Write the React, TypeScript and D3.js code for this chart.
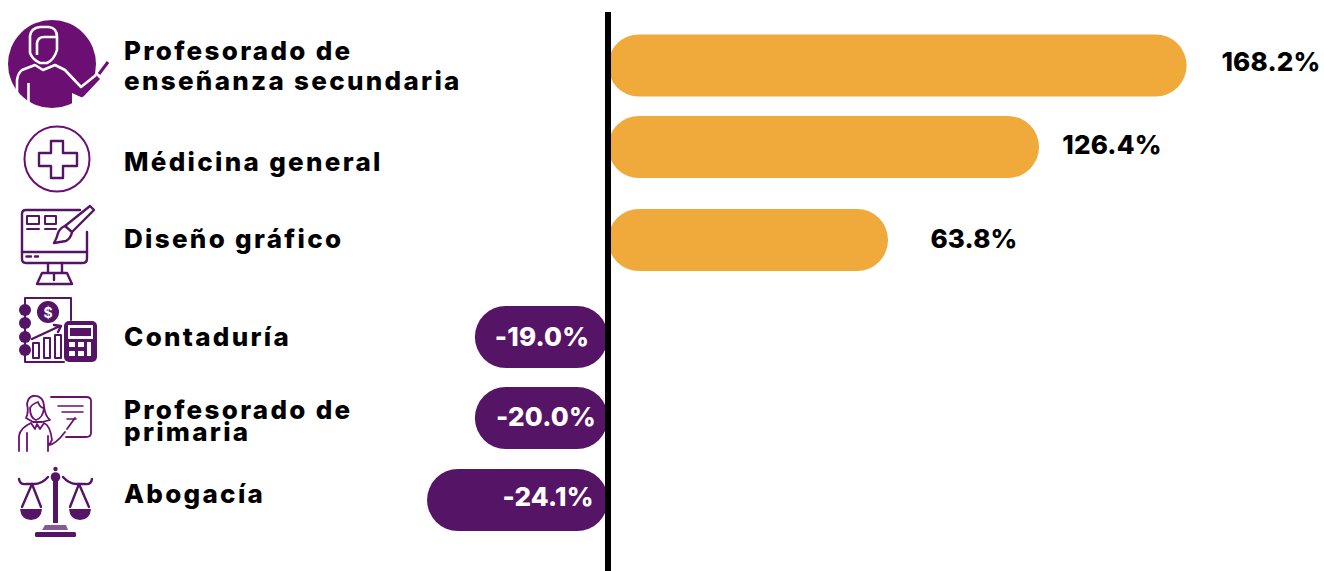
import React from 'react';
import * as d3 from 'd3';

const categories = ['Profesorado de enseñanza secundaria', 'Médicina general', 'Diseño gráfico', 'Contaduría', 'Profesorado de primaria', 'Abogacía'];
const labelLines = [['Profesorado de', 'enseñanza secundaria'], ['Médicina general'], ['Diseño gráfico'], ['Contaduría'], ['Profesorado de', 'primaria'], ['Abogacía']];
const valueLabels = ['168.2%', '126.4%', '63.8%', '-19.0%', '-20.0%', '-24.1%'];
// Bar lengths as drawn in the picture (the original is not to scale with its labels)
const drawnValues = [168.2, 125.3, 81.4, -38.7, -38.7, -52.6];
const rowTops = [34.5, 116, 209, 306, 387, 469];
const labelY = [[60, 90], [171], [248], [346], [419, 441], [503]];
const valueLabelX = [1271, 1112, 974, 542, 546, 548];
const valueLabelY = [71, 154, 248, 346, 426, 506];

const ORANGE = '#F0AA3C';
const PURPLE = '#561467';
const ICON = '#6B0F72';
const DARK = '#561467';
const FONT = 'Inter, "Noto Sans", sans-serif';

const x = d3.scaleLinear().domain([-100, 200]).range([608 - 344, 608 + 688]);

function Icons() {
  const s = { fill: 'none', stroke: DARK, strokeWidth: 2.4, strokeLinejoin: 'round' as const, strokeLinecap: 'round' as const };
  const t = { fill: 'none', stroke: '#fff', strokeWidth: 2.6, strokeLinejoin: 'round' as const };
  return (
    <g>
      {/* teacher */}
      <circle cx={52} cy={64} r={44} fill={ICON} />
      <path d="M81,87 L96,75 L100,79 L84,96 L72,104 L68,92 Z" fill={ICON} />
      <path d="M99,74 L108,62" stroke={ICON} strokeWidth={3} fill="none" />
      <path d="M30,53 V36 Q31,28 40,27 H49 Q57,28 57,37 V50 Q54,60 47,63 H40 Q33,60 30,53 Z" {...t} />
      <path d="M37,55 V43 Q38,37 44,37 H56" {...t} />
      <path d="M17,106 V80 Q18,73 22,70 L35,65 L43,70 L55,65 L65,70 L81,87 L96,75" {...t} />
      <path d="M28.500,83 V107" {...t} />
      <path d="M72,93 V105 L83,98 Z" fill="#fff" />
      {/* medicine */}
      <circle cx={57} cy={159} r={32.5} fill="none" stroke={ICON} strokeWidth={2} />
      <path d="M51,141 H63 V153 H77 V166 H63 V178 H51 V166 H39 V153 H51 Z" fill="none" stroke={DARK} strokeWidth={2.4} strokeLinejoin="round" />
      {/* design */}
      <path d="M87,232 V258 Q87,263 83,263 H26 Q22,263 22,259 V214 Q22,210 26,210 H80" {...s} />
      <path d="M22,252 H87" {...s} />
      <path d="M26.500,256.500 H31 M35,256.500 H38" {...s} />
      <rect x={27} y={216} width={12} height={8} {...s} strokeWidth={2} />
      <rect x={45} y={216} width={11} height={8} {...s} strokeWidth={2} />
      <path d="M27,229 H39 M45,229 H56" {...s} strokeWidth={2} />
      <path d="M54,243 Q57,238 58,233 Q60,228 65,226 L72,232 Q71,238 66,241 Z" {...s} />
      <path d="M65,226 L90,206 L94,210 L72,232" {...s} />
      <path d="M48,263 V273 H62 V263 M54,273 V280 M42,273 L37,284 H72 L67,273 Z" {...s} />
      {/* accounting */}
      <path d="M25,298 H71 V320 M25,298 V362 H64" {...s} strokeWidth={2} />
      <circle cx={25} cy={310} r={6} fill={DARK} />
      <circle cx={25} cy={323} r={6} fill={DARK} />
      <circle cx={25} cy={337} r={6} fill={DARK} />
      <circle cx={25} cy={350} r={6} fill={DARK} />
      <circle cx={48} cy={312} r={11} fill={DARK} />
      <text x={48} y={317.500} textAnchor="middle" fill="#fff" fontSize={14} fontWeight={700} fontFamily={FONT}>$</text>
      <path d="M32,339 L60,326 M54,325 L61,326 L58,332" {...s} />
      <rect x={33} y={343} width={6} height={15} {...s} strokeWidth={2} />
      <rect x={44} y={338} width={6} height={20} {...s} strokeWidth={2} />
      <rect x={55} y={335} width={6} height={23} {...s} strokeWidth={2} />
      <rect x={64} y={321} width={33} height={41} rx={5} fill={DARK} />
      <rect x={68} y={325} width={25} height={14} fill="#fff" />
      <rect x={70} y={328} width={21} height={8} fill={DARK} />
      <path d="M69,342 H75 V347 H69 Z M78,342 H84 V347 H78 Z M69,351 H75 V356 H69 Z M78,351 H84 V356 H78 Z M87,342 H91 V356 H87 Z" fill="#fff" />
      {/* primary teacher */}
      <path d="M51,397 H86 Q91,397 91,401 V433 Q91,437 86,437 H66" {...s} stroke={ICON} strokeWidth={1.8} />
      <path d="M58,406 H83 M62,412 H83 M67,419 H76" {...s} stroke={ICON} strokeWidth={1.6} />
      <path d="M33,396 Q43,395 44,406 Q45,416 50,420 L42,422 H33 L26,418 Q29,412 27,404 Q28,397 33,396 Z" {...s} stroke={ICON} strokeWidth={1.8} />
      <path d="M30,408 Q32,404 38,402 Q40,408 44,408 Q43,418 36,420 Q30,418 30,408 Z" {...s} stroke={ICON} strokeWidth={1.8} />
      <path d="M31,423 L35,429 L37,424 L40,429 L44,423 M19,451 V436 Q20,428 31,423 M27,433 V451 M44,423 Q50,425 52,440 L49,445 Q56,444 65,432 M48,451 V436 M67,429 L75,418" {...s} stroke={ICON} strokeWidth={1.8} />
      {/* scales */}
      <circle cx={55.500} cy={469} r={2.200} fill={DARK} />
      <circle cx={55.500} cy={477} r={4.800} fill={DARK} />
      <rect x={53} y={481} width={5} height={42} fill={DARK} />
      <path d="M45,525 H66 L68,530 H42 Z" fill={DARK} opacity={0.7} />
      <rect x={35} y={532} width={41} height={5} rx={1.500} fill={DARK} />
      <path d="M19,479 Q20,485 26,484 L34,484 Q42,484 48,477 M92,479 Q91,485 85,484 L77,484 Q69,484 63,477" {...s} />
      <path d="M32,484 L22,507 M32,484 L41,507 M79,484 L70,507 M79,484 L89,507" {...s} />
      <path d="M20,509 H42 Q41,520 31,520 Q21,520 20,509 Z M69,509 H91 Q90,520 80,520 Q70,520 69,509 Z" fill={DARK} />
    </g>
  );
}

export default function App() {
  const barH = 62;
  return (
    <svg width={1324} height={571} style={{ position: 'absolute', left: 0, top: 0, background: '#fff' }}>
      {drawnValues.map((v, i) => {
        const x0 = Math.min(x(0), x(v));
        const w = Math.abs(x(v) - x(0));
        return <rect key={i} x={x0} y={rowTops[i]} width={w} height={barH} rx={31} fill={v > 0 ? ORANGE : PURPLE} />;
      })}
      <rect x={605} y={12} width={6} height={559} fill="#000" />
      <Icons />
      {labelLines.map((lines, i) => (
        <text key={categories[i]} fontFamily={FONT} fontWeight={800} fontSize={26} letterSpacing={2.3} fill="#000">
          {lines.map((l, j) => <tspan key={j} x={124} y={labelY[i][j]}>{l}</tspan>)}
        </text>
      ))}
      {valueLabels.map((l, i) => (
        <text key={l} x={valueLabelX[i]} y={valueLabelY[i]} textAnchor="middle" fontFamily={FONT} fontWeight={800} fontSize={26} letterSpacing={0.2} fill={drawnValues[i] > 0 ? '#000' : '#fff'}>{l}</text>
      ))}
    </svg>
  );
}
